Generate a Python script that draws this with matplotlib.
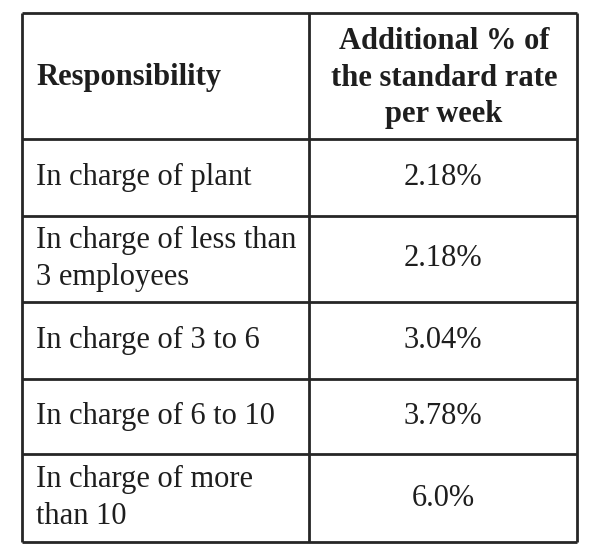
import matplotlib.pyplot as plt

header_left = 'Responsibility'
header_right = 'Additional % of\nthe standard rate\nper week'
responsibilities = ['In charge of plant',
                    'In charge of less than\n3 employees',
                    'In charge of 3 to 6',
                    'In charge of 6 to 10',
                    'In charge of more\nthan 10']
rates = ['2.18%', '2.18%', '3.04%', '3.78%', '6.0%']

# table layout in pixels
row_edges = [13, 139, 216, 302, 379, 454, 542]
x_left, x_mid, x_right = 22, 309, 577
line_color = '#262626'
text_color = '#1e1e1e'

fig = plt.figure(figsize=(6, 5.49), dpi=100)
ax = fig.add_axes([0, 0, 1, 1])
ax.set_xlim(0, 600)
ax.set_ylim(549, 0)
ax.axis('off')

ax.hlines(row_edges, x_left, x_right, colors=line_color, lw=2.0)
ax.vlines([x_left, x_mid, x_right], row_edges[0], row_edges[-1], colors=line_color, lw=2.0)

font = dict(family='Liberation Serif', size=22, color=text_color, linespacing=1.35)

yc = (row_edges[0] + row_edges[1]) / 2
ax.text(x_left + 14, yc + 1, header_left, ha='left', va='center', fontweight='bold', **font)
ax.text((x_mid + x_right) / 2 + 1, yc + 2, header_right, ha='center', va='center',
        multialignment='center', fontweight='bold', **font)

for i, (resp, rate) in enumerate(zip(responsibilities, rates)):
    yc = (row_edges[i + 1] + row_edges[i + 2]) / 2
    ax.text(x_left + 14, yc, resp, ha='left', va='center', **font)
    ax.text((x_mid + x_right) / 2, yc, rate, ha='center', va='center', **font)

fig.savefig('out.png', dpi=100, facecolor='white')
